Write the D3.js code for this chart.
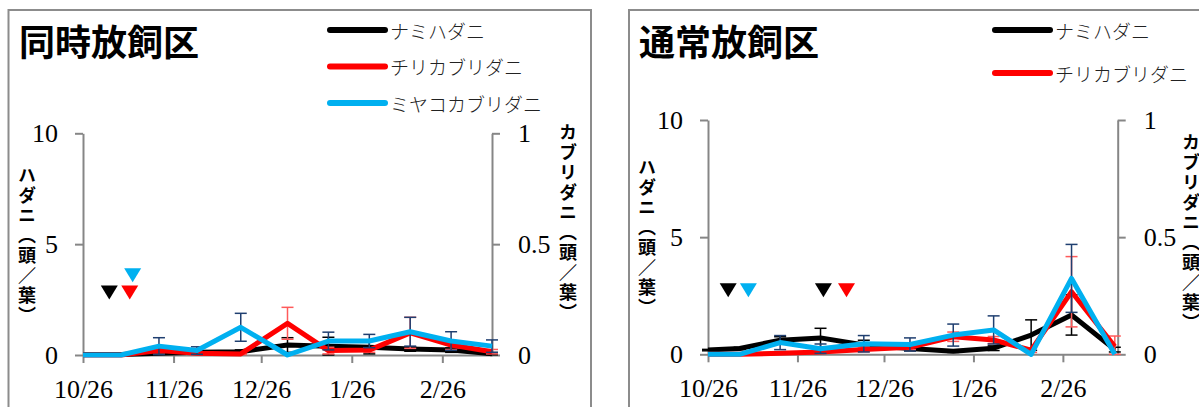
<!DOCTYPE html>
<html>
<head>
<meta charset="utf-8">
<script src="https://cdn.jsdelivr.net/npm/d3@7"></script>
<style>
  html, body { margin: 0; padding: 0; background: #fff; }
  svg { display: block; }
</style>
</head>
<body>
<svg id="chart" width="1199" height="407"></svg>
<script>
const parseDate = d3.utcParse("%Y-%m-%d");

// Series shared by both plots
const seriesNames  = ["ナミハダニ", "チリカブリダニ", "ミヤコカブリダニ"];
const seriesColors = ["#000000", "#ff0000", "#00b0f0"];
const errorColors  = ["#000000", "#ff5a5a", "#1f3f70"];

// Axis ticks
const monthTicks      = ["2012-10-26", "2012-11-26", "2012-12-26", "2013-01-26", "2013-02-26"];
const monthTickLabels = ["10/26", "11/26", "12/26", "1/26", "2/26"];
const leftTicks  = [0, 5, 10];
const rightTicks = [0, 0.5, 1];
const rightTickLabels = ["0", "0.5", "1"];

// 同時放飼区 (simultaneous release)
const dates1  = ["2012-10-26", "2012-11-08", "2012-11-21", "2012-12-04", "2012-12-19", "2013-01-04",
                 "2013-01-18", "2013-02-01", "2013-02-15", "2013-03-01", "2013-03-15"];
const nami1   = [0.02, 0.02, 0.08, 0.12, 0.15, 0.45, 0.40, 0.35, 0.27, 0.22, 0.06];
const namiSE1 = [0, 0, 0.05, 0.05, 0.08, 0.33, 0.40, 0.30, 0.10, 0.10, 0.05];
const chiri1   = [0, 0, 0.020, 0.008, 0.005, 0.143, 0.020, 0.022, 0.100, 0.045, 0.015];
const chiriSE1 = [0, 0, 0.010, 0.005, 0.003, 0.072, 0.015, 0.010, 0.070, 0.020, 0.010];
const miyako1   = [0, 0, 0.040, 0.020, 0.125, 0, 0.063, 0.063, 0.105, 0.063, 0.040];
const miyakoSE1 = [0, 0, 0.038, 0.017, 0.063, 0, 0.040, 0.030, 0.065, 0.042, 0.028];
const releaseDates1  = ["2012-11-04", "2012-11-11", "2012-11-12"];
const releaseSeries1 = [0, 1, 2];
const releaseLevels1 = [3.13, 3.13, 3.91];

// 通常放飼区 (standard release)
const dates2  = ["2012-10-26", "2012-11-06", "2012-11-20", "2012-12-04", "2012-12-19", "2013-01-04",
                 "2013-01-19", "2013-02-02", "2013-02-15", "2013-03-01", "2013-03-16"];
const nami2   = [0.18, 0.25, 0.60, 0.70, 0.40, 0.25, 0.13, 0.26, 0.82, 1.68, 0.20];
const namiSE2 = [0.03, 0.05, 0.15, 0.41, 0.20, 0.10, 0.05, 0.10, 0.65, 0.86, 0.10];
const chiri2   = [0, 0, 0.004, 0.010, 0.021, 0.030, 0.075, 0.061, 0.018, 0.267, 0.033];
const chiriSE2 = [0, 0, 0.003, 0.005, 0.010, 0.010, 0.020, 0.015, 0.010, 0.150, 0.045];
const miyako2   = [0, 0, 0.050, 0.024, 0.045, 0.042, 0.082, 0.104, 0, 0.324, 0];
const miyakoSE2 = [0, 0, 0.030, 0.020, 0.035, 0.028, 0.047, 0.060, 0, 0.145, 0];
const releaseDates2  = ["2012-11-02", "2012-11-09", "2012-12-05", "2012-12-13"];
const releaseSeries2 = [0, 2, 0, 1];
const releaseLevels2 = [3.03, 3.03, 3.03, 3.03];

const panels = [
  {
    title: "同時放飼区",
    frame: { x: 8.5, y: 10, w: 582.5, h: 420 },
    titlePos: { x: 19, y: 40 },
    plot: { left: 83, right: 492, top: 133.3, bottom: 355 },
    domainEnd: "2013-03-15",
    dates: dates1,
    values: [nami1, chiri1, miyako1],
    errors: [namiSE1, chiriSE1, miyakoSE1],
    releases: { dates: releaseDates1, series: releaseSeries1, levels: releaseLevels1 },
    legend: { x: 330, y: 30, gap: 36.5, entries: [0, 1, 2] },
    leftTitle:  { x: 27, y: 166 },
    rightTitle: { x: 568, y: 123 }
  },
  {
    title: "通常放飼区",
    frame: { x: 629, y: 10, w: 600, h: 420 },
    titlePos: { x: 639, y: 40 },
    plot: { left: 708, right: 1117.7, top: 120, bottom: 354.3 },
    domainEnd: "2013-03-17",
    dates: dates2,
    values: [nami2, chiri2, miyako2],
    errors: [namiSE2, chiriSE2, miyakoSE2],
    releases: { dates: releaseDates2, series: releaseSeries2, levels: releaseLevels2 },
    legend: { x: 995, y: 30, gap: 43, entries: [0, 1] },
    leftTitle:  { x: 647, y: 158 },
    rightTitle: { x: 1191, y: 133 }
  }
];

const svg = d3.select("#chart");
const serifFont = "'Liberation Serif', 'Times New Roman', serif";
const cjkFont = "'Noto Sans CJK JP', sans-serif";
const axisColor = "#868686";

panels.forEach(p => {
  const g = svg.append("g");

  // panel frame
  g.append("rect")
    .attr("x", p.frame.x).attr("y", p.frame.y)
    .attr("width", p.frame.w).attr("height", p.frame.h)
    .attr("fill", "#fff").attr("stroke", "#8c8c8c").attr("stroke-width", 2);

  const x = d3.scaleUtc()
    .domain([parseDate(p.dates[0]), parseDate(p.domainEnd)])
    .range([p.plot.left, p.plot.right]);
  const yL = d3.scaleLinear().domain([0, 10]).range([p.plot.bottom, p.plot.top]);
  const yR = d3.scaleLinear().domain([0, 1]).range([p.plot.bottom, p.plot.top]);
  const yOf = i => (i === 0 ? yL : yR);

  // title
  g.append("text")
    .attr("x", p.titlePos.x).attr("y", p.titlePos.y)
    .attr("dominant-baseline", "central")
    .style("font-family", cjkFont).style("font-weight", 700).style("font-size", "36px")
    .attr("fill", "#000")
    .text(p.title);

  // legend
  p.legend.entries.forEach((si, k) => {
    const ly = p.legend.y + k * p.legend.gap;
    g.append("line")
      .attr("x1", p.legend.x).attr("x2", p.legend.x + 55)
      .attr("y1", ly).attr("y2", ly)
      .attr("stroke", seriesColors[si]).attr("stroke-width", 6)
      .attr("stroke-linecap", "round");
    g.append("text")
      .attr("x", p.legend.x + 60).attr("y", ly)
      .attr("dominant-baseline", "central")
      .style("font-family", cjkFont).style("font-weight", 300).style("font-size", "19px")
      .attr("fill", "#222")
      .text(seriesNames[si]);
  });

  // axes
  const styleAxis = sel => {
    sel.select(".domain").attr("stroke", axisColor).attr("stroke-width", 2);
    sel.selectAll(".tick line").attr("stroke", axisColor).attr("stroke-width", 2);
    sel.selectAll("text")
      .style("font-family", serifFont).style("font-size", "26px").attr("fill", "#000");
  };

  g.append("g")
    .attr("transform", `translate(0,${p.plot.bottom})`)
    .call(d3.axisBottom(x)
      .tickValues(monthTicks.map(parseDate))
      .tickFormat((d, i) => monthTickLabels[i])
      .tickSize(8).tickSizeOuter(0))
    .call(styleAxis)
    .call(sel => sel.selectAll("text").attr("y", 43).attr("dy", 0));

  g.append("g")
    .attr("transform", `translate(${p.plot.left},0)`)
    .call(d3.axisLeft(yL).tickValues(leftTicks).tickFormat(d3.format("d"))
      .tickSize(8).tickSizeOuter(0).tickPadding(17))
    .call(styleAxis)
    .call(sel => sel.selectAll("text").attr("dy", "0.33em"));

  g.append("g")
    .attr("transform", `translate(${p.plot.right},0)`)
    .call(d3.axisRight(yR).tickValues(rightTicks)
      .tickFormat((d, i) => rightTickLabels[i])
      .tickSize(8).tickSizeOuter(0).tickPadding(18))
    .call(styleAxis)
    .call(sel => sel.selectAll("text").attr("dy", "0.33em"));

  // axis titles (vertical)
  const vTitle = (pos, txt) => g.append("text")
    .attr("x", pos.x).attr("y", pos.y)
    .style("writing-mode", "vertical-rl")
    .style("text-orientation", "upright")
    .style("font-family", cjkFont).style("font-weight", 700).style("font-size", "18px")
    .style("letter-spacing", "2px")
    .attr("fill", "#000")
    .text(txt);
  vTitle(p.leftTitle, "ハダニ（頭／葉）");
  vTitle(p.rightTitle, "カブリダニ（頭／葉）");

  // series: error bars then line
  [0, 1, 2].forEach(si => {
    const ys = yOf(si);
    const pts = p.dates.map((d, i) => ({
      date: parseDate(d), v: p.values[si][i], se: p.errors[si][i]
    }));
    const eb = g.append("g")
      .attr("stroke", errorColors[si]).attr("stroke-width", 1.5).attr("fill", "none");
    pts.filter(d => d.se > 0).forEach(d => {
      const cx = x(d.date);
      const lo = ys(Math.max(0, d.v - d.se)), hi = ys(d.v + d.se);
      eb.append("line").attr("x1", cx).attr("x2", cx).attr("y1", lo).attr("y2", hi);
      eb.append("line").attr("x1", cx - 6).attr("x2", cx + 6).attr("y1", hi).attr("y2", hi);
      eb.append("line").attr("x1", cx - 6).attr("x2", cx + 6).attr("y1", lo).attr("y2", lo);
    });
    g.append("path")
      .datum(pts)
      .attr("fill", "none")
      .attr("stroke", seriesColors[si])
      .attr("stroke-width", 5)
      .attr("stroke-linejoin", "round")
      .attr("stroke-linecap", "butt")
      .attr("d", d3.line().x(d => x(d.date)).y(d => ys(d.v)));
  });

  // release markers (▼)
  p.releases.dates.forEach((d, i) => {
    const cx = x(parseDate(d));
    const top = yL(p.releases.levels[i]);
    g.append("path")
      .attr("d", `M${cx - 8.5},${top}L${cx + 8.5},${top}L${cx},${top + 14}Z`)
      .attr("fill", seriesColors[p.releases.series[i]]);
  });
});
</script>
</body>
</html>
